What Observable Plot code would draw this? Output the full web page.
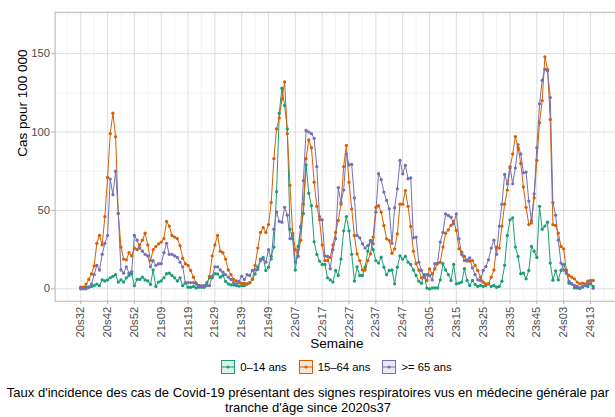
<!DOCTYPE html>
<html><head><meta charset="utf-8">
<script src="https://cdn.jsdelivr.net/npm/d3@7"></script>
<script src="https://cdn.jsdelivr.net/npm/@observablehq/plot@0.6"></script>
<style>
html,body{margin:0;padding:0;background:#fff;overflow:hidden;}
#fig{position:relative;width:624px;height:417px;font-family:"Liberation Sans",Arial,Helvetica,sans-serif;}
#legend{position:absolute;top:360px;left:54.6px;width:563.7px;height:14px;display:flex;justify-content:center;align-items:center;font-size:11.3px;color:#000;}
#legend .item{display:flex;align-items:center;margin:0 6px;}
#legend svg{margin-right:5px;}
.cap{position:absolute;left:308px;transform:translateX(-50%);white-space:nowrap;font-size:13px;line-height:15px;color:#000;}
</style></head><body><div id="fig"></div>
<script>
const groups = ["0–14 ans", "15–64 ans", ">= 65 ans"];
const colors = ["#1b9e77", "#d95f02", "#7570b3"];
// ISO weeks covered: [year, first week, last week]
const yearWeeks = [[2020, 32, 53], [2021, 1, 52], [2022, 1, 52], [2023, 1, 52], [2024, 1, 14]];
const tickLabels = ["20s32","20s42","20s52","21s09","21s19","21s29","21s39","21s49","22s07","22s17","22s27","22s37","22s47","23s05","23s15","23s25","23s35","23s45","24s03","24s13"];
const yTicks = [0, 50, 100, 150];
const captionLines = ["Taux d'incidence des cas de Covid-19 présentant des signes respiratoires vus en médecine générale par", "tranche d'âge since 2020s37"];

const cases0to14 = [
0,0.5,1,1,1.5,2,3,2,5.7,5,
5.7,7,8,9,4.3,5.7,4.3,7,8.5,9.6,
2,6,6,7.4,5.7,5,2.8,12,1.5,4.3,
5,7,9.6,10,8.5,7,5,7,2,3.6,
1,1,1.5,0.6,1,1,1,4,7,7,
9.6,9.5,7.4,8.5,4.7,3.2,2.5,2.5,2.1,1.7,
2,2,3.2,3.8,6.4,9.5,13.8,19,20,11.7,
13.8,20.8,26.6,62,112,128,117,102,38,32,
12,27,39,48,79,61,53,30,22,17.7,
15.5,15.5,7,5.7,4.3,11.7,8.5,19,37,46,
37,22,5,14,8.5,8.5,13.8,24,30.8,25,
18,16.4,20.2,13.8,9,11.7,12,3.2,13.8,21,
19,20.6,17,15.5,12,8.5,4.9,3.6,9,0.5,
0,0.6,0.6,0.6,5.7,16,12,9.1,5.3,15.5,
3.2,3.6,4.3,12.8,5.3,2.1,5.3,2.8,1.5,2.1,
1.5,2.1,3.2,1.5,2.1,1,1.5,4.9,15,34,
44,45.3,26.6,20.6,9.6,10,6.4,11.7,27,24,
20,52.6,38,40,42.5,16.4,5.5,11.5,5.7,11.7,
15.5,11.7,3.6,3.2,0.6,0.6,0.2,1,2.1,1.5,
3.2,1.5];

const cases15to64 = [
1,1,3,6,9.5,14.5,29,34,28,46,
71,99,112,97,48,26.6,19,18.5,23,21,
26,25,28,31,35.5,28,18,25,27,28.7,
29.8,32,43,40,34,33,32,27.6,19.5,16,
14.9,11.7,7.4,3.8,2.1,1.7,1.7,2.5,8,21,
28,34,24,23,19,12,9,6,5,4,
3.5,3.5,3,4,6,15,26,36,39,36,
41,55,83,102,109,121,132,99,66,35.5,
25,21,31,54,83,95,90,68,52.6,44,
28,18,18,20,28,36,43.6,54,78,91.5,
68,51,34,22.3,18,12,12,18,22.3,33,
52,53,48.9,40.4,31.9,30.8,22.7,25.5,35,54,
54,62.7,52.5,39.8,24,16,12,7,7.8,5.3,
12.7,9.5,12.7,16,17,26.6,35.5,37.6,40.4,43.2,
37.2,25.5,23.4,20.6,17.7,17.7,18,14.9,11.7,7.4,
4.2,3.2,3.2,7.4,12,26.6,26,40,54,63,
77,86,97,90,80,65,52,41,42,58,
82,106,120,148,140,108,41,40.4,35.5,27,
25.5,11.7,8.5,7.4,6.4,4.3,3.2,3.6,3.2,4.9,
4.9,5.3];

const cases65plus = [
0.5,0,0,1,3,9,15,12,22,29,
34,70,60,75,48,12,10,14,10,11,
34,31,26,24,22,21,14,18,15,16,
16,23,29,22,22,21,20,17,14,4,
4,4,4,3,2,2,2,2,2,8,
14,14,12,10.6,9,7.4,6,4,3,4.7,
8,6,9,8.5,11.7,12.3,12.3,18,19,17,
25,19,38,49,43,42.5,52,47,32,34,
17,20.6,40,69,101,100,99,96,78,46,
44,21,20.6,12.8,25,32,64.5,55,63,86,
79,79.4,58,34,32.5,28.7,26,27.6,30.8,28.7,
48.9,73.4,69.6,61.7,56.4,51,29,51.7,63.8,81.9,
73.4,78.7,70.2,70.8,32.5,33,17,11.7,7.4,9,
8.5,5.7,16,16.4,29.8,36,47.8,46.8,45.7,41.5,
47.8,31.9,21.9,18,18.5,19.8,13.3,9.1,5.7,5.3,
11.7,14.2,18.5,26,31,22,40,54,73,67,
78,67,77,92,86,74,74.5,56,43.6,60.6,
90,118,133,140,139,122,55,47,31,16.4,
12,10,4.9,3.2,2.1,1.5,0.6,1.5,2.1,3.2,
5.3,0.3];

// week labels (categories) in order
const weeks = [];
for (const [yr, w0, w1] of yearWeeks) {
  for (let w = w0; w <= w1; w++) weeks.push(String(yr).slice(2) + "s" + String(w).padStart(2, "0"));
}
const series = [cases0to14, cases15to64, cases65plus];
const rows = [];
series.forEach((arr, g) => arr.forEach((v, i) => rows.push({i, week: weeks[i], v, group: groups[g]})));

const tickIdx = tickLabels.map(l => weeks.indexOf(l));
const xMajor = d3.range(0, 201, 10);
const xMinor = d3.range(-5, 201, 10);
const yMinor = [25, 75, 125, 175];

const chart = Plot.plot({
  width: 624, height: 356,
  marginTop: 11.8, marginBottom: 55.3, marginLeft: 54.6, marginRight: 5.7,
  style: {fontFamily: "'Liberation Sans', Arial, sans-serif", background: "white", overflow: "visible"},
  x: {type: "linear", domain: [-9.55, 200.55]},
  y: {domain: [-7.9, 176.4]},
  color: {domain: groups, range: colors},
  marks: [
    Plot.gridY(yMinor, {stroke: "#ececec", strokeOpacity: 1, strokeWidth: 0.6}),
    Plot.gridX(xMinor, {stroke: "#ececec", strokeOpacity: 1, strokeWidth: 0.6}),
    Plot.gridY(yTicks, {stroke: "#dedede", strokeOpacity: 1, strokeWidth: 1}),
    Plot.gridX(xMajor, {stroke: "#dedede", strokeOpacity: 1, strokeWidth: 1}),
    Plot.line(rows, {x: "i", y: "v", z: "group", stroke: "group", strokeWidth: 1}),
    Plot.dot(rows, {x: "i", y: "v", fill: "group", r: 1.65}),
    Plot.frame({stroke: "#b3b3b3"}),
    Plot.axisY(yTicks, {tickSize: 3.5, tickPadding: 1.5, stroke: "#b3b3b3", fill: "#4d4d4d", fontSize: 11.3, label: null}),
    Plot.axisX(tickIdx, {tickSize: 3.5, tickPadding: 2, tickRotate: -90, tickFormat: i => weeks[i], stroke: "#b3b3b3", fill: "#4d4d4d", fontSize: 11.3, label: null}),
    Plot.text(["Semaine"], {text: d => d, frameAnchor: "bottom", dy: 47, fontSize: 13.5, fill: "#000"}),
    Plot.text(["Cas pour 100 000"], {text: d => d, frameAnchor: "left", dx: -32.6, rotate: -90, fontSize: 13.5, fill: "#000"})
  ]
});

const fig = document.getElementById("fig");
chart.style.position = "absolute";
chart.style.left = "0px";
chart.style.top = "0px";
fig.appendChild(chart);

// legend
const legend = document.createElement("div");
legend.id = "legend";
groups.forEach((g, k) => {
  const item = document.createElement("div");
  item.className = "item";
  const c = colors[k];
  item.innerHTML = `<svg width="14" height="14" viewBox="0 0 14 14"><rect x="0.5" y="0.5" width="13" height="13" fill="${c}" fill-opacity="0.15" stroke="${c}" stroke-width="1"/><line x1="1" x2="13" y1="7" y2="7" stroke="${c}" stroke-width="1"/><circle cx="7" cy="7" r="1.6" fill="${c}"/></svg><span>${g.replace(">", "&gt;")}</span>`;
  legend.appendChild(item);
});
fig.appendChild(legend);

// caption
captionLines.forEach((t, k) => {
  const s = document.createElement("div");
  s.className = "cap";
  s.style.top = (384.5 + 15 * k) + "px";
  s.textContent = t;
  fig.appendChild(s);
});
</script></body></html>
